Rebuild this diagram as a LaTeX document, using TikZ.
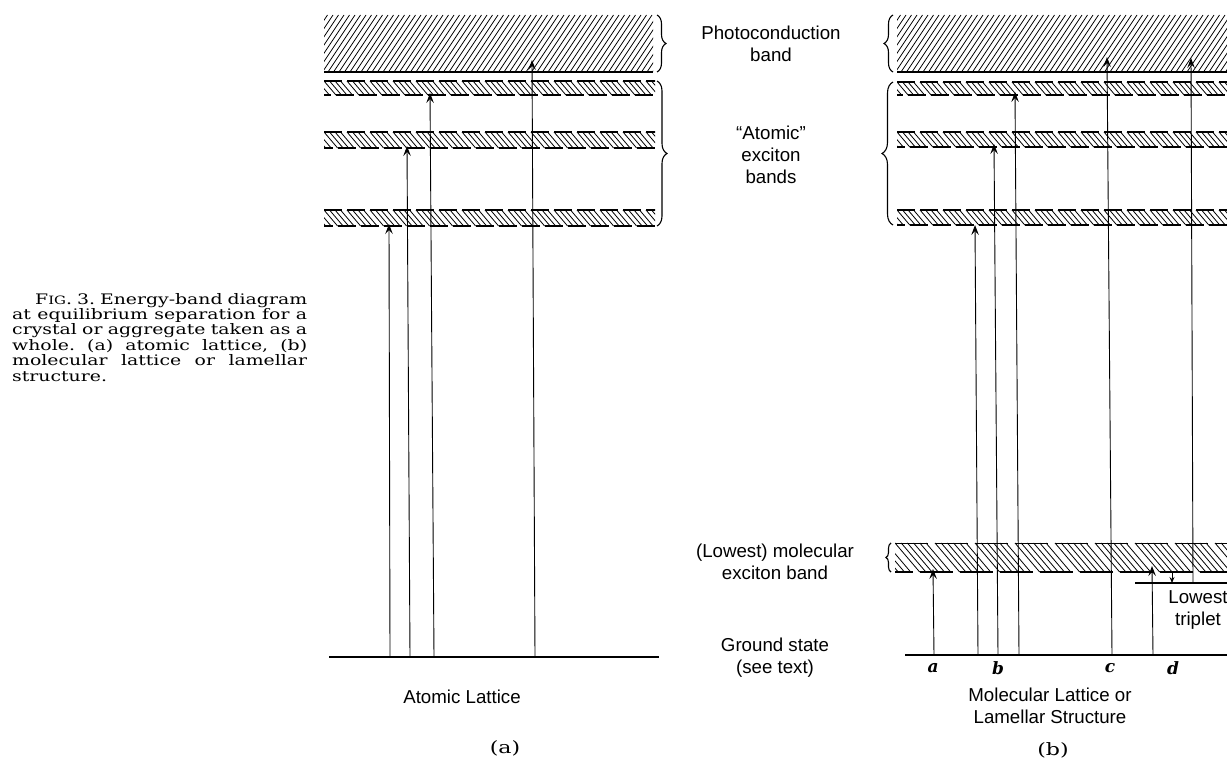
\documentclass[tikz,border=0pt]{standalone}
\usepackage{fontspec}
\usepackage{graphicx}
\newfontfamily\lblfont{Liberation Sans}
\newfontfamily\capfont{DejaVu Serif}
\usetikzlibrary{arrows.meta,decorations.pathreplacing}
\frenchspacing

\tikzset{
 lbl/.style={font=\lblfont\fontsize{18.7}{22}\selectfont, align=center, inner sep=0pt},
 letter/.style={font=\capfont\fontsize{17}{17}\selectfont\bfseries\itshape, inner sep=0pt},
 panel/.style={font=\capfont\fontsize{17}{17}\selectfont, inner sep=0pt},
 capline/.style={anchor=base west, inner sep=0pt, font=\capfont\fontsize{14.5}{14.5}\selectfont},
 arr/.style={line width=0.9pt, -{Stealth[length=10pt,width=7.5pt,inset=4pt]}},
 hatchline/.style={line width=0.8pt},
 bandedge/.style={line width=1.3pt},
 groundline/.style={line width=1.8pt},
 bracestyle/.style={line width=1.1pt, decorate, decoration={brace, amplitude=#1}},
}

% x0, x1, ytop, ybottom, period, dash, nlines-1, spacing, top edge width
\newcommand\hatchband[9]{%
 \begin{scope}
 \clip (#1,#3-2) rectangle (#2,#4+2);
 \pgfmathsetmacro\hbdx{0.85*(#4-#3)}
 \pgfmathtruncatemacro\hbn{(#2-#1)/#5+1}
 \foreach \k in {-1,...,\hbn}{%
   \pgfmathsetmacro\xk{#1+\k*#5}
   \draw[line width=#9] (\xk,#3) -- ++(#6,0);
   \draw[bandedge] (\xk+\hbdx,#4) -- ++(#6,0);
   \foreach \j in {0,...,#7}{\draw[hatchline] (\xk+\j*#8,#3) -- ++(\hbdx,#4-#3);}
 }
 \end{scope}}

\newcommand\photoband[4]{%
 \begin{scope}
 \clip (#1,#3) rectangle (#2,#4);
 \foreach \i in {0,...,72}{\draw[hatchline] (#1-40+\i*5.5,#4) -- ++(38,#3-#4);}
 \end{scope}
 \draw[line width=1.6pt] (#1,#4) -- (#2,#4);}

\newcommand\scap[1]{{\fontsize{11.5}{11.5}\selectfont #1}}

\begin{document}
\begin{tikzpicture}[x=1pt,y=-1pt]
\useasboundingbox (0,0) rectangle (1227,765);

% ---------- caption ----------
\node[capline] (cap1) at (35,304) {\scalebox{1.3}[1]{\makebox[209.2pt][s]{F\scap{IG}. 3. Energy-band diagram}}};
\node[capline] (cap2) at (12,319.4) {\scalebox{1.3}[1]{\makebox[226.9pt][s]{at equilibrium separation for a}}};
\node[capline] (cap3) at (12,334.8) {\scalebox{1.3}[1]{\makebox[226.9pt][s]{crystal or aggregate taken as a}}};
\node[capline] (cap4) at (12,350.2) {\scalebox{1.3}[1]{\makebox[226.9pt][s]{whole. (a) atomic lattice, (b)}}};
\node[capline] (cap5) at (12,365.6) {\scalebox{1.3}[1]{\makebox[226.9pt][s]{molecular lattice or lamellar}}};
\node[capline] (cap6) at (12,381) {\scalebox{1.3}[1]{structure.}};

% ---------- panel (a) ----------
\photoband{324}{653}{15}{72}
\hatchband{324}{655}{81}{95}{23}{18}{3}{5.5}{1.3pt}
\hatchband{324}{655}{132}{148}{23}{18}{3}{5.5}{1.3pt}
\hatchband{324}{655}{210}{226}{23}{18}{3}{5.5}{1.3pt}
\draw[bracestyle=9] (657,15) -- (657,72);
\draw[bracestyle=10] (657,81) -- (657,226);
\draw[groundline] (329,657) -- (659,657);

\coordinate (a1s) at (390,657); \coordinate (a1e) at (389,224);
\coordinate (a2s) at (410,657); \coordinate (a2e) at (407,146);
\coordinate (a3s) at (434,657); \coordinate (a3e) at (430,93);
\coordinate (a4s) at (535,657); \coordinate (a4e) at (532,60);
\draw[arr] (a1s) -- (a1e);
\draw[arr] (a2s) -- (a2e);
\draw[arr] (a3s) -- (a3e);
\draw[arr] (a4s) -- (a4e);

\node[lbl] (atl) at (462,697) {Atomic Lattice};
\node[panel] (pa) at (505,748) {\scalebox{1.3}[1]{(a)}};

% ---------- middle labels ----------
\node[lbl] (lphoto) at (771,44) {Photoconduction\\band};
\node[lbl] (lexc) at (771,155) {“Atomic”\\exciton\\bands};
\node[lbl] (lmol) at (775,562) {(Lowest) molecular\\exciton band};
\node[lbl] (lgnd) at (775,658) {Ground state\\(see text)};

% ---------- panel (b) ----------
\photoband{897}{1227}{15}{72}
\hatchband{897}{1227}{82}{95}{23}{18}{3}{5.5}{1.3pt}
\hatchband{897}{1227}{132}{147}{23}{18}{3}{5.5}{1.3pt}
\hatchband{897}{1227}{210}{225}{23}{18}{3}{5.5}{1.3pt}
\hatchband{895}{1227}{543}{572}{40}{33}{5}{6.2}{0.7pt}
\draw[bracestyle=9] (893,72) -- (893,15);
\draw[bracestyle=11] (893,225) -- (893,82);
\draw[bracestyle=5] (891,572) -- (891,543);
\draw[groundline] (905,655) -- (1227,655);
\draw[line width=1.5pt] (1135,583) -- (1227,583);

\coordinate (bas) at (934,655); \coordinate (bae) at (933,569);
\coordinate (bb1s) at (978,655); \coordinate (bb1e) at (975,225);
\coordinate (bb2s) at (998,655); \coordinate (bb2e) at (994,144);
\coordinate (bb3s) at (1019,655); \coordinate (bb3e) at (1015,92);
\coordinate (bcs) at (1112,655); \coordinate (bce) at (1107,57);
\coordinate (bds) at (1153,655); \coordinate (bde) at (1152,566);
\coordinate (bts) at (1172,572); \coordinate (bte) at (1172,583);
\coordinate (bus) at (1193,583); \coordinate (bue) at (1191,58);
\draw[arr] (bas) -- (bae);
\draw[arr] (bb1s) -- (bb1e);
\draw[arr] (bb2s) -- (bb2e);
\draw[arr] (bb3s) -- (bb3e);
\draw[arr] (bcs) -- (bce);
\draw[arr] (bds) -- (bde);
\draw[line width=0.9pt, -{Stealth[length=6pt,width=5pt,inset=2pt]}] (bts) -- (bte);
\draw[arr] (bus) -- (bue);

\node[lbl] (ltrip) at (1198,610) {Lowest\\triplet};
\node[letter] (la) at (933,668) {a};
\node[letter] (lb) at (998,668) {b};
\node[letter] (lc) at (1110,668) {c};
\node[letter] (ld) at (1173,668) {d};
\node[lbl] (mll) at (1050,706) {Molecular Lattice or\\Lamellar Structure};
\node[panel] (pb) at (1053,750) {\scalebox{1.3}[1]{(b)}};
\end{tikzpicture}
\end{document}
